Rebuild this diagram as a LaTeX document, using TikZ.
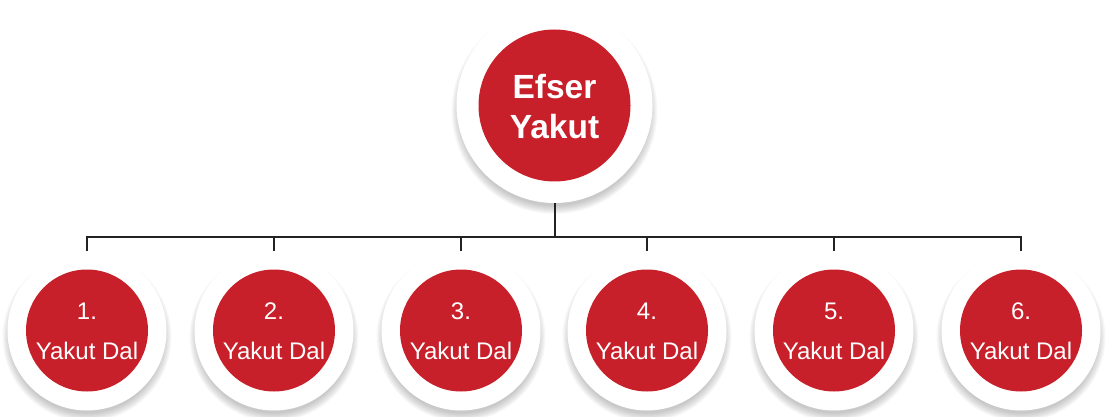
\documentclass[tikz,border=0pt]{standalone}
\usepackage{fontspec}
\setmainfont{Liberation Sans}
\definecolor{ruby}{HTML}{C8202A}
\definecolor{wire}{HTML}{222222}
\tikzset{
  outerc/.style={circle,fill=white,inner sep=0pt,minimum size=#1},
  innerc/.style={circle,fill=ruby,inner sep=0pt,minimum size=#1},
  leaflbl/.style={text=white,inner sep=0pt,anchor=base,font=\fontsize{24}{24}\selectfont},
  rootlbl/.style={text=white,inner sep=0pt,anchor=base,font=\bfseries\fontsize{33.5}{33.5}\selectfont},
  wireline/.style={draw=wire,line width=2pt}
}
\newcommand\softshade[3]{%
  \foreach \k in {1,...,10}{%
    \pgfmathsetmacro\rr{#3+\k*0.9-4}%
    \fill[black,opacity=0.024] (#1,#2+6) circle [radius=\rr pt];
  }%
}
\begin{document}
\begin{tikzpicture}[x=1pt,y=-1pt]
\useasboundingbox (0,0) rectangle (1114,417);
% bus coordinates
\foreach \i/\x in {1/87,2/274,3/461,4/647,5/834,6/1021}{
  \coordinate (bus\i) at (\x,237);
}
\coordinate (busmid) at (554.5,237);
% shadows and circles
\softshade{554.5}{105}{98}
\node[outerc=196pt] (root) at (554.5,105) {};
\node[innerc=152pt] (rootin) at (554.5,105.5) {};
\node[rootlbl] (rootA) at (554.5,99) {Efser};
\node[rootlbl] (rootB) at (554.5,138.5) {Yakut};
\foreach \i/\x in {1/87,2/274,3/461,4/647,5/834,6/1021}{
  \softshade{\x}{331}{79.5}
  \node[outerc=159pt] (o\i) at (\x,331) {};
  \node[innerc=122pt] (c\i) at (\x,330.5) {};
  \node[leaflbl] (n\i) at (\x,319) {\i.};
  \node[leaflbl] (t\i) at (\x,359) {Yakut Dal};
}
% connectors
\draw[wireline] (o1.north) -- (bus1) -- (bus6) -- (o6.north);
\foreach \i in {2,3,4,5}{
  \draw[wireline] (bus\i) -- (o\i.north);
}
\draw[wireline] (root.south) -- (busmid);
\end{tikzpicture}
\end{document}
